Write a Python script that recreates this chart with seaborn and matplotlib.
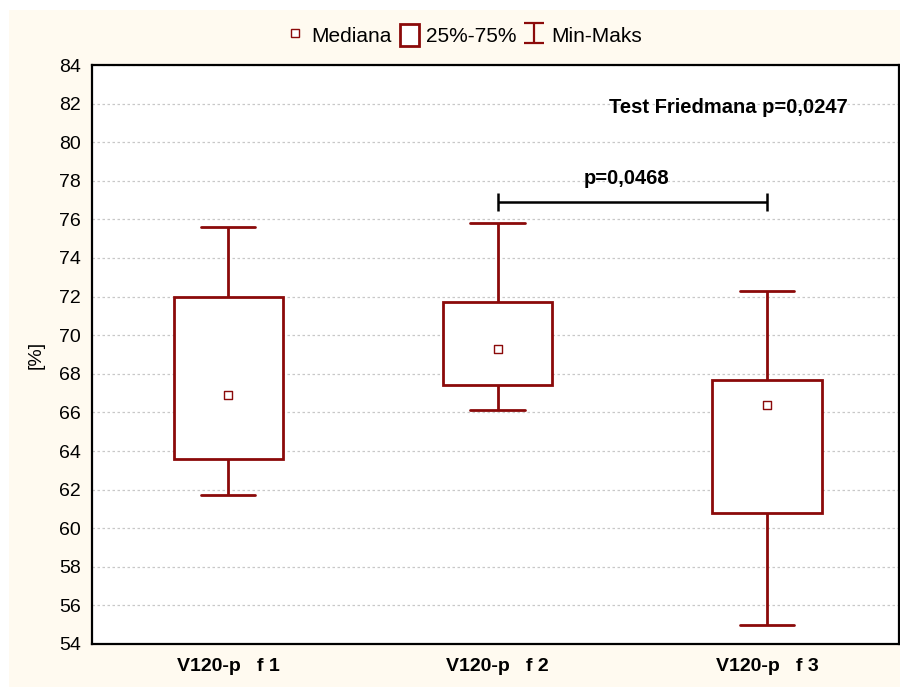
import numpy as np
import pandas as pd
import matplotlib.pyplot as plt
import seaborn as sns
from matplotlib.lines import Line2D
from matplotlib.patches import Patch, Rectangle
from matplotlib.path import Path

# dane
grupy = ['V120-p   f 1', 'V120-p   f 2', 'V120-p   f 3']
minimum = [61.7, 66.1, 55.0]
q25 = [63.6, 67.4, 60.8]
mediana = [66.9, 69.3, 66.4]
q75 = [72.0, 71.7, 67.7]
maksimum = [75.6, 75.8, 72.3]

para = [1, 2]
p_para = 'p=0,0468'
p_friedman = 'Test Friedmana p=0,0247'

RED = '#8b0a0a'
CREAM = '#fffaf0'

# 5 wartosci na grupe -> kwartyle liczone przez seaborn trafiaja dokladnie w q25/mediana/q75
rows = []
for g, a, b, c, d, e in zip(grupy, minimum, q25, mediana, q75, maksimum):
    for v in (a, b, c, d, e):
        rows.append({'grupa': g, 'val': v})
df = pd.DataFrame(rows)
df_med = pd.DataFrame({'grupa': grupy, 'mediana': mediana})

sns.set_style('white')
plt.rcParams['font.family'] = ['Liberation Sans', 'DejaVu Sans']
plt.rcParams.update({'text.color': 'black', 'axes.labelcolor': 'black',
                     'xtick.color': 'black', 'ytick.color': 'black'})

fig = plt.figure(figsize=(9, 6.87), dpi=100, facecolor='white')
fig.patches.append(Rectangle((9 / 900, 0), 1, 1 - 10 / 687, transform=fig.transFigure,
                             facecolor=CREAM, edgecolor='none', zorder=-10))
ax = fig.add_axes([92 / 900, 1 - 644 / 687, 807 / 900, 579 / 687])
ax.set_facecolor('white')

sns.boxplot(data=df, x='grupa', y='val', order=grupy, color='white', linecolor=RED,
            linewidth=2, width=0.405, whis=(0, 100), showfliers=False,
            medianprops={'visible': False}, ax=ax, zorder=3)
sns.stripplot(data=df_med, x='grupa', y='mediana', order=grupy, jitter=False, marker='s',
              size=6, color='white', edgecolor=RED, linewidth=1, ax=ax, zorder=5)

# porownanie par
yb = max(maksimum[para[0]], maksimum[para[1]]) + 1.1
ax.hlines(yb, para[0], para[1], color='black', lw=1.8, zorder=4)
ax.vlines(para, yb - 0.45, yb + 0.45, color='black', lw=1.8, zorder=4)
ax.text(np.mean(para) - 0.02, yb + 1.2, p_para, ha='center', va='center',
        fontsize=14.5, fontweight='bold')
ax.text(1.855, 81.8, p_friedman, ha='center', va='center', fontsize=14.5, fontweight='bold')

ax.set_xlim(-0.505, 2.49)
ax.set_ylim(54, 84)
ax.set_yticks(np.arange(54, 85, 2))
ax.yaxis.grid(True, linestyle=(0, (2, 2)), color='#c8c8c8', linewidth=0.9)
ax.xaxis.grid(False)
ax.set_axisbelow(True)
ax.set_xlabel('')
ax.set_ylabel('[%]', fontsize=14, labelpad=10)
ax.tick_params(axis='both', direction='in', length=4, width=1.5, colors='black')
ax.tick_params(axis='y', labelsize=14, pad=8)
ax.tick_params(axis='x', labelsize=14, pad=10)
for lab in ax.get_xticklabels():
    lab.set_fontweight('bold')
for s in ax.spines.values():
    s.set_visible(True)
    s.set_color('black')
    s.set_linewidth(1.6)

# legenda
ibeam = Path([(-0.5, 0.5), (0.5, 0.5), (0, 0.5), (0, -0.5), (-0.5, -0.5), (0.5, -0.5)],
             [Path.MOVETO, Path.LINETO, Path.MOVETO, Path.LINETO, Path.MOVETO, Path.LINETO])
handles = [
    Line2D([], [], marker='s', markersize=6, mfc='white', mec=RED, mew=1, linestyle='none'),
    Patch(facecolor='white', edgecolor=RED, linewidth=2),
    Line2D([], [], marker=ibeam, markersize=15, mfc='none', mec=RED, mew=1.6, linestyle='none'),
]
fig.legend(handles, ['Mediana', '25%-75%', 'Min-Maks'], loc='center',
           bbox_to_anchor=(0.515, 1 - 35 / 687), ncol=3, frameon=False, fontsize=15,
           handlelength=0.9, handleheight=1.3, handletextpad=0.35, columnspacing=0.4)

fig.savefig('out.png', dpi=100, facecolor='white')
